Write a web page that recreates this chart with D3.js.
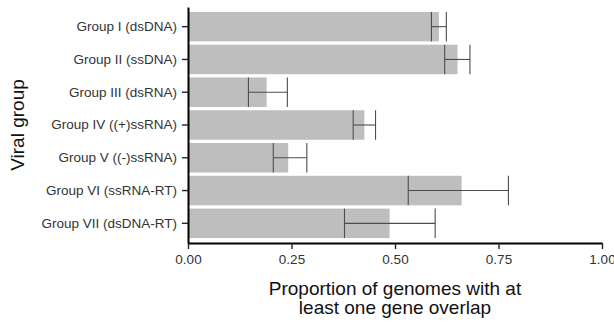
<!DOCTYPE html>
<html>
<head>
<meta charset="utf-8">
<script src="https://cdn.jsdelivr.net/npm/d3@7"></script>
<style>
  body { margin: 0; background: #fff; }
  svg { display: block; font-family: "Liberation Sans", Arial, sans-serif; }
</style>
</head>
<body>
<svg id="chart"></svg>
<script>
// data
const groups = ["Group I (dsDNA)", "Group II (ssDNA)", "Group III (dsRNA)", "Group IV ((+)ssRNA)",
                "Group V ((-)ssRNA)", "Group VI (ssRNA-RT)", "Group VII (dsDNA-RT)"];
const proportion = [0.606, 0.651, 0.190, 0.426, 0.242, 0.661, 0.487];
const errLow  = [0.588, 0.620, 0.146, 0.399, 0.206, 0.532, 0.378];
const errHigh = [0.624, 0.681, 0.240, 0.453, 0.287, 0.774, 0.597];
const xTicks = [0, 0.25, 0.5, 0.75, 1];

const width = 614, height = 322;
const marginTop = 7, marginRight = 12, marginBottom = 79, marginLeft = 188;

const rows = groups.map((g, i) => ({ group: g, value: proportion[i], lo: errLow[i], hi: errHigh[i] }));

const svg = d3.select("#chart")
  .attr("width", width)
  .attr("height", height);

const x = d3.scaleLinear()
  .domain([0, 1])
  .range([marginLeft, width - marginRight]);

const y = d3.scaleBand()
  .domain(groups)
  .range([marginTop, height - marginBottom])
  .paddingInner(0.1)
  .paddingOuter(0.15);

// bars
svg.append("g")
  .selectAll("rect")
  .data(rows)
  .join("rect")
  .attr("x", x(0))
  .attr("y", d => y(d.group))
  .attr("width", d => x(d.value) - x(0))
  .attr("height", y.bandwidth())
  .attr("fill", "#bebebe");

// error bars
const err = svg.append("g")
  .attr("stroke", "#4d4d4d")
  .attr("stroke-width", 1.1)
  .selectAll("g")
  .data(rows)
  .join("g");

err.append("line")
  .attr("x1", d => x(d.lo))
  .attr("x2", d => x(d.hi))
  .attr("y1", d => y(d.group) + y.bandwidth() / 2)
  .attr("y2", d => y(d.group) + y.bandwidth() / 2);

err.selectAll("line.cap")
  .data(d => [d.lo, d.hi].map(v => ({ v, group: d.group })))
  .join("line")
  .attr("class", "cap")
  .attr("x1", c => x(c.v))
  .attr("x2", c => x(c.v))
  .attr("y1", c => y(c.group))
  .attr("y2", c => y(c.group) + y.bandwidth());

// axes
const xAxis = svg.append("g")
  .attr("transform", `translate(0,${height - marginBottom})`)
  .call(d3.axisBottom(x).tickValues(xTicks).tickFormat(d3.format(".2f")).tickSize(6).tickPadding(5).tickSizeOuter(0));

const yAxis = svg.append("g")
  .attr("transform", `translate(${marginLeft},0)`)
  .call(d3.axisLeft(y).tickSize(6).tickPadding(5).tickSizeOuter(0));

[xAxis, yAxis].forEach(a => {
  a.select(".domain").attr("stroke", "#000").attr("stroke-width", 2);
  a.selectAll(".tick line").attr("stroke", "#222").attr("stroke-width", 1.4);
  a.selectAll(".tick text").attr("fill", "#333").style("font-size", "13.5px");
});

// axis titles
const title = svg.append("text")
  .attr("text-anchor", "middle")
  .attr("fill", "#111")
  .style("font-size", "19px")
  .attr("x", (x(0) + x(1)) / 2);
title.append("tspan").attr("x", (x(0) + x(1)) / 2).attr("y", 295).text("Proportion of genomes with at");
title.append("tspan").attr("x", (x(0) + x(1)) / 2).attr("y", 314).text("least one gene overlap");

svg.append("text")
  .attr("transform", `translate(24,${(marginTop + height - marginBottom) / 2}) rotate(-90)`)
  .attr("text-anchor", "middle")
  .attr("fill", "#111")
  .style("font-size", "19px")
  .text("Viral group");
</script>
</body>
</html>
